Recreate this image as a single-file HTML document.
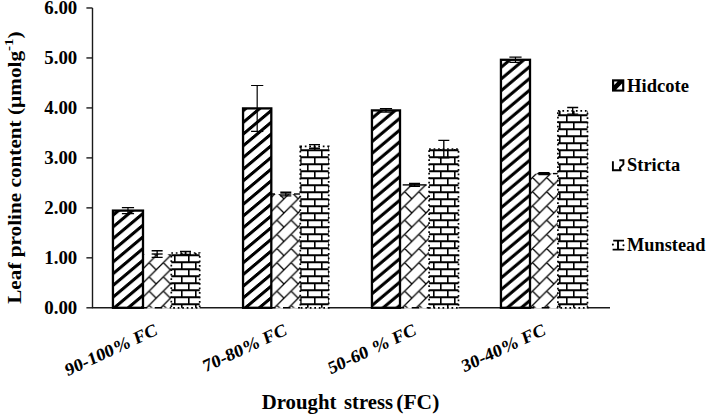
<!DOCTYPE html>
<html><head><meta charset="utf-8"><title>Leaf proline content</title>
<style>
html,body{margin:0;padding:0;background:#fff;width:708px;height:415px;overflow:hidden;}
svg{display:block;}
text{font-family:"Liberation Serif",serif;font-weight:bold;fill:#000;}
</style></head>
<body>
<svg width="708" height="415" viewBox="0 0 708 415">
<defs>
<pattern id="pH0" patternUnits="userSpaceOnUse" width="20" height="11.7" patternTransform="skewY(-40.030)"><rect x="0" y="4.00" width="20" height="4.0" fill="#000"/></pattern>
<pattern id="pH1" patternUnits="userSpaceOnUse" width="20" height="11.7" patternTransform="skewY(-40.030)"><rect x="0" y="8.80" width="20" height="4.0" fill="#000"/><rect x="0" y="-2.90" width="20" height="4.0" fill="#000"/></pattern>
<pattern id="pH2" patternUnits="userSpaceOnUse" width="20" height="11.7" patternTransform="skewY(-40.030)"><rect x="0" y="7.50" width="20" height="4.0" fill="#000"/></pattern>
<pattern id="pH3" patternUnits="userSpaceOnUse" width="20" height="11.7" patternTransform="skewY(-40.030)"><rect x="0" y="6.50" width="20" height="4.0" fill="#000"/></pattern>
<pattern id="pS" patternUnits="userSpaceOnUse" width="8" height="8" patternTransform="translate(0.0,0.0) scale(1.775)">
<path d="M-1,9 L9,-1 M-1,1 L1,-1 M7,9 L9,7 M4,4 L8,8 M-4,-4 L0,0 M4,-4 L8,0 M-4,4 L0,8" stroke="#000" stroke-width="0.72" fill="none"/>
</pattern>
<pattern id="pM" patternUnits="userSpaceOnUse" width="14" height="14">
<path d="M-1,3.3 H15 M-1,10.3 H15" stroke="#000" stroke-width="2.0" fill="none"/>
<path d="M6.8,3.3 V10.3 M13.8,10.3 V17.3 M-0.2,10.3 V17.3 M13.8,-3.7 V3.3 M-0.2,-3.7 V3.3" stroke="#000" stroke-width="1.6" fill="none"/>
</pattern>
</defs>
<line x1="92.5" y1="7.98" x2="92.5" y2="307.8" stroke="#1a1a1a" stroke-width="1.4"/>
<line x1="91.9" y1="307.8" x2="610.0" y2="307.8" stroke="#1a1a1a" stroke-width="1.4"/>
<line x1="86.4" y1="307.80" x2="92.5" y2="307.80" stroke="#1a1a1a" stroke-width="1.4"/>
<text x="77.3" y="313.80" font-size="17.8" text-anchor="end" textLength="33" lengthAdjust="spacingAndGlyphs">0.00</text>
<line x1="86.4" y1="257.83" x2="92.5" y2="257.83" stroke="#1a1a1a" stroke-width="1.4"/>
<text x="77.3" y="263.83" font-size="17.8" text-anchor="end" textLength="33" lengthAdjust="spacingAndGlyphs">1.00</text>
<line x1="86.4" y1="207.86" x2="92.5" y2="207.86" stroke="#1a1a1a" stroke-width="1.4"/>
<text x="77.3" y="213.86" font-size="17.8" text-anchor="end" textLength="33" lengthAdjust="spacingAndGlyphs">2.00</text>
<line x1="86.4" y1="157.89" x2="92.5" y2="157.89" stroke="#1a1a1a" stroke-width="1.4"/>
<text x="77.3" y="163.89" font-size="17.8" text-anchor="end" textLength="33" lengthAdjust="spacingAndGlyphs">3.00</text>
<line x1="86.4" y1="107.92" x2="92.5" y2="107.92" stroke="#1a1a1a" stroke-width="1.4"/>
<text x="77.3" y="113.92" font-size="17.8" text-anchor="end" textLength="33" lengthAdjust="spacingAndGlyphs">4.00</text>
<line x1="86.4" y1="57.95" x2="92.5" y2="57.95" stroke="#1a1a1a" stroke-width="1.4"/>
<text x="77.3" y="63.95" font-size="17.8" text-anchor="end" textLength="33" lengthAdjust="spacingAndGlyphs">5.00</text>
<line x1="86.4" y1="7.98" x2="92.5" y2="7.98" stroke="#1a1a1a" stroke-width="1.4"/>
<text x="77.3" y="13.98" font-size="17.8" text-anchor="end" textLength="33" lengthAdjust="spacingAndGlyphs">6.00</text>
<rect x="143.00" y="254.00" width="28.30" height="54.60" fill="#fff"/>
<rect x="143.00" y="254.00" width="28.30" height="53.80" fill="url(#pS)"/>
<line x1="143.00" y1="307.80" x2="171.30" y2="307.80" stroke="#000" stroke-width="1.4" stroke-dasharray="7.5 7.5" stroke-dashoffset="3.3"/>
<rect x="171.30" y="253.00" width="28.40" height="55.60" fill="#fff"/>
<rect x="171.30" y="253.00" width="28.40" height="54.80" fill="url(#pM)" stroke="#000" stroke-width="1.7" stroke-dasharray="1.7 2.8"/>
<rect x="112.95" y="210.60" width="30.05" height="97.20" fill="url(#pH0)" stroke="#000" stroke-width="2.3"/>
<path d="M127.97,207.60 V213.60 M121.88,207.60 H134.07 M121.88,213.60 H134.07" stroke="#000" stroke-width="1.2" fill="none"/>
<path d="M157.15,250.70 V257.30 M151.65,250.70 H162.65 M151.65,257.30 H162.65" stroke="#000" stroke-width="1.35" fill="none"/>
<line x1="151.65" y1="254.00" x2="162.65" y2="254.00" stroke="#000" stroke-width="1.35"/>
<path d="M185.50,251.50 V254.50 M180.00,251.50 H191.00 M180.00,254.50 H191.00" stroke="#000" stroke-width="1.35" fill="none"/>
<rect x="271.30" y="194.00" width="29.00" height="114.60" fill="#fff"/>
<rect x="271.30" y="194.00" width="29.00" height="113.80" fill="url(#pS)"/>
<line x1="271.30" y1="307.80" x2="300.30" y2="307.80" stroke="#000" stroke-width="1.4" stroke-dasharray="7.5 7.5" stroke-dashoffset="3.3"/>
<line x1="271.30" y1="194.00" x2="275.00" y2="194.00" stroke="#000" stroke-width="1.4"/>
<line x1="294.00" y1="194.00" x2="300.00" y2="194.00" stroke="#000" stroke-width="1.4"/>
<rect x="300.30" y="146.40" width="28.40" height="162.20" fill="#fff"/>
<rect x="300.30" y="146.40" width="28.40" height="161.40" fill="url(#pM)" stroke="#000" stroke-width="1.7" stroke-dasharray="1.7 2.8"/>
<rect x="243.05" y="108.40" width="28.25" height="199.40" fill="url(#pH1)" stroke="#000" stroke-width="2.3"/>
<path d="M257.18,85.50 V131.30 M251.08,85.50 H263.28 M251.08,131.30 H263.28" stroke="#000" stroke-width="1.2" fill="none"/>
<path d="M285.80,192.20 V195.80 M280.30,192.20 H291.30 M280.30,195.80 H291.30" stroke="#000" stroke-width="1.35" fill="none"/>
<line x1="280.30" y1="194.00" x2="291.30" y2="194.00" stroke="#000" stroke-width="1.35"/>
<path d="M314.50,144.60 V148.20 M309.00,144.60 H320.00 M309.00,148.20 H320.00" stroke="#000" stroke-width="1.35" fill="none"/>
<rect x="400.00" y="184.90" width="29.10" height="123.70" fill="#fff"/>
<rect x="400.00" y="184.90" width="29.10" height="122.90" fill="url(#pS)"/>
<line x1="400.00" y1="307.80" x2="429.10" y2="307.80" stroke="#000" stroke-width="1.4" stroke-dasharray="7.5 7.5" stroke-dashoffset="3.3"/>
<line x1="402.70" y1="184.90" x2="426.60" y2="184.90" stroke="#000" stroke-width="1.4"/>
<rect x="429.10" y="149.00" width="29.40" height="159.60" fill="#fff"/>
<rect x="429.10" y="149.00" width="29.40" height="158.80" fill="url(#pM)" stroke="#000" stroke-width="1.7" stroke-dasharray="1.7 2.8"/>
<rect x="371.95" y="110.40" width="28.05" height="197.40" fill="url(#pH2)" stroke="#000" stroke-width="2.3"/>
<path d="M385.98,108.70 V112.10 M379.88,108.70 H392.08 M379.88,112.10 H392.08" stroke="#000" stroke-width="1.2" fill="none"/>
<path d="M414.55,183.40 V186.40 M409.05,183.40 H420.05 M409.05,186.40 H420.05" stroke="#000" stroke-width="1.35" fill="none"/>
<line x1="409.05" y1="184.90" x2="420.05" y2="184.90" stroke="#000" stroke-width="1.35"/>
<path d="M443.80,140.30 V157.70 M438.30,140.30 H449.30 M438.30,157.70 H449.30" stroke="#000" stroke-width="1.35" fill="none"/>
<rect x="530.00" y="173.60" width="27.90" height="135.00" fill="#fff"/>
<rect x="530.00" y="173.60" width="27.90" height="134.20" fill="url(#pS)"/>
<line x1="530.00" y1="307.80" x2="557.90" y2="307.80" stroke="#000" stroke-width="1.4" stroke-dasharray="7.5 7.5" stroke-dashoffset="3.3"/>
<line x1="537.30" y1="173.60" x2="550.20" y2="173.60" stroke="#000" stroke-width="1.4"/>
<line x1="552.90" y1="173.60" x2="557.70" y2="173.60" stroke="#000" stroke-width="1.4"/>
<rect x="557.90" y="110.80" width="29.60" height="197.80" fill="#fff"/>
<rect x="557.90" y="110.80" width="29.60" height="197.00" fill="url(#pM)" stroke="#000" stroke-width="1.7" stroke-dasharray="1.7 2.8"/>
<rect x="500.95" y="59.80" width="29.05" height="248.00" fill="url(#pH3)" stroke="#000" stroke-width="2.3"/>
<path d="M515.48,57.20 V62.40 M509.38,57.20 H521.58 M509.38,62.40 H521.58" stroke="#000" stroke-width="1.2" fill="none"/>
<path d="M543.95,172.60 V174.60 M538.45,172.60 H549.45 M538.45,174.60 H549.45" stroke="#000" stroke-width="1.35" fill="none"/>
<line x1="538.45" y1="173.60" x2="549.45" y2="173.60" stroke="#000" stroke-width="1.35"/>
<path d="M572.70,107.50 V114.10 M567.20,107.50 H578.20 M567.20,114.10 H578.20" stroke="#000" stroke-width="1.35" fill="none"/>
<text transform="matrix(0.9063,-0.4226,0.3173,0.9483,158.69,334.00)" font-size="17.7" text-anchor="end" textLength="100.6" lengthAdjust="spacingAndGlyphs">90-100% FC</text>
<text transform="matrix(0.9063,-0.4226,0.3173,0.9483,288.06,334.00)" font-size="17.7" text-anchor="end" textLength="91.3" lengthAdjust="spacingAndGlyphs">70-80% FC</text>
<text transform="matrix(0.9063,-0.4226,0.3173,0.9483,417.44,334.00)" font-size="17.7" text-anchor="end" textLength="96.0" lengthAdjust="spacingAndGlyphs">50-60 % FC</text>
<text transform="matrix(0.9063,-0.4226,0.3173,0.9483,546.81,334.00)" font-size="17.7" text-anchor="end" textLength="91.3" lengthAdjust="spacingAndGlyphs">30-40% FC</text>
<text x="261.7" y="408.8" font-size="20.2" textLength="74.7" lengthAdjust="spacingAndGlyphs">Drought</text>
<text x="344.0" y="408.8" font-size="20.2" textLength="49.0" lengthAdjust="spacingAndGlyphs">stress</text>
<text x="396.3" y="408.8" font-size="20.2" textLength="43.0" lengthAdjust="spacingAndGlyphs">(FC)</text>
<text transform="translate(20.6,303.8) rotate(-90)" font-size="19" textLength="272.5" lengthAdjust="spacingAndGlyphs">Leaf proline content (µmolg<tspan dy="-7.6" font-size="13.5">-1</tspan><tspan dy="7.6">)</tspan></text>
<rect x="612" y="79.3" width="12.3" height="12.3" fill="#000"/>
<path d="M614.2,81.5 H617.6 L614.2,84.9 Z M616.3,89.4 H622.1 V83.6 Z" fill="#fff"/>
<path d="M612.9,161.3 V170.3 H621.6 M619.3,160.2 H623.4 V164.3 L620,167.7 V170.3" stroke="#000" stroke-width="1.9" fill="none"/>
<path d="M613.2,240.6 H624 M612.6,249.6 H624.2 M618,240.6 V249.6" stroke="#000" stroke-width="1.9" fill="none"/>
<circle cx="612.9" cy="244.6" r="1.05" fill="#000"/><circle cx="623.5" cy="245.3" r="1.05" fill="#000"/>
<text x="627.1" y="91.60" font-size="18" textLength="61.8" lengthAdjust="spacingAndGlyphs">Hidcote</text>
<text x="627.1" y="171.10" font-size="18" textLength="53.0" lengthAdjust="spacingAndGlyphs">Stricta</text>
<text x="627.1" y="250.60" font-size="18" textLength="78.3" lengthAdjust="spacingAndGlyphs">Munstead</text>
</svg>
</body></html>
